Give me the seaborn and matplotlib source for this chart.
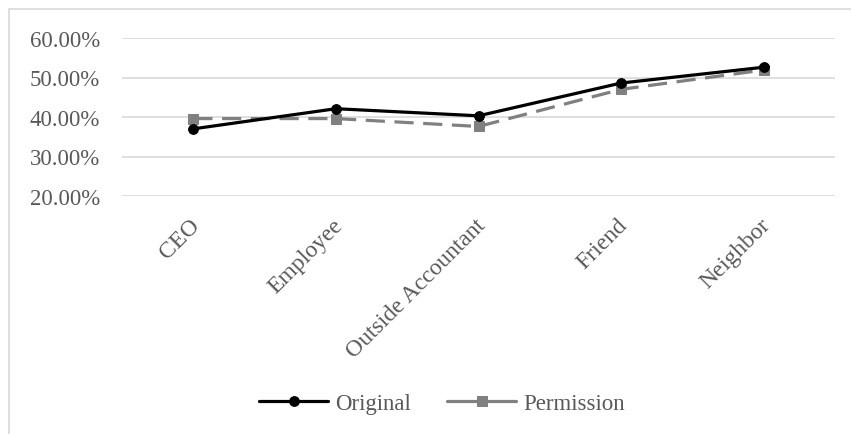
import matplotlib
matplotlib.use("Agg")
import matplotlib.pyplot as plt
import matplotlib.transforms as mtransforms
import seaborn as sns
import pandas as pd
from matplotlib.patches import Rectangle
from matplotlib.ticker import FuncFormatter

# values
categories = ["CEO", "Employee", "Outside Accountant", "Friend", "Neighbor"]
original = [0.370, 0.421, 0.403, 0.486, 0.526]
permission = [0.396, 0.396, 0.376, 0.470, 0.519]
yticks = [0.2, 0.3, 0.4, 0.5, 0.6]

sns.set_style("white")
plt.rcParams['font.family'] = ['Liberation Serif', 'DejaVu Serif']

fig = plt.figure(figsize=(8.51, 4.35), dpi=100)
ax = fig.add_axes([122 / 851, 1 - 197 / 435, (835 - 122) / 851, (197 - 39) / 435])

# chart area border
fig.patches.append(Rectangle((9 / 851, -0.01), 1.0, 1 - 10 / 435 + 0.01,
                             transform=fig.transFigure, fill=False,
                             edgecolor="#d9d9d9", linewidth=1.2))

df = pd.DataFrame({"cat": categories, "Original": original, "Permission": permission})

sns.lineplot(data=df, x="cat", y="Original", ax=ax, color="black", lw=2.3,
             marker="o", markersize=7, markeredgecolor="black", label="Original", zorder=4)
sns.lineplot(data=df, x="cat", y="Permission", ax=ax, color="#808080", lw=2.3,
             marker="s", markersize=7.5, markeredgecolor="#808080", label="Permission",
             dashes=False, zorder=3)
ax.lines[1].set_dashes([6, 3])

ax.set_xlim(-0.5, len(categories) - 0.5)
ax.set_ylim(0.2, 0.6)
ax.set_yticks(yticks)
ax.yaxis.set_major_formatter(FuncFormatter(lambda v, p: f"{v * 100:.2f}%"))
ax.grid(axis="y", color="#d9d9d9", lw=1.2)
ax.set_axisbelow(True)
for s in ax.spines.values():
    s.set_visible(False)
ax.set_xlabel("")
ax.set_ylabel("")
ax.tick_params(length=0, labelsize=16.5, labelcolor="#595959")
ax.tick_params(axis="y", pad=16)
ax.tick_params(axis="x", pad=13, labelsize=17)
shift = mtransforms.ScaledTranslation(-4 / 100, 0, fig.dpi_scale_trans)
for lab in ax.get_xticklabels():
    lab.set_rotation(45)
    lab.set_ha("right")
    lab.set_rotation_mode("anchor")
    lab.set_transform(lab.get_transform() + shift)

ax.legend(loc="center", bbox_to_anchor=(442 / 851, 1 - 404 / 435),
          bbox_transform=fig.transFigure, ncol=2, frameon=False,
          fontsize=16.5, handlelength=3.0, columnspacing=1.6, handletextpad=0.3,
          labelcolor="#595959")
for h in ax.get_legend().get_lines():
    h.set_linestyle("-")

fig.savefig("out.png", dpi=100)
